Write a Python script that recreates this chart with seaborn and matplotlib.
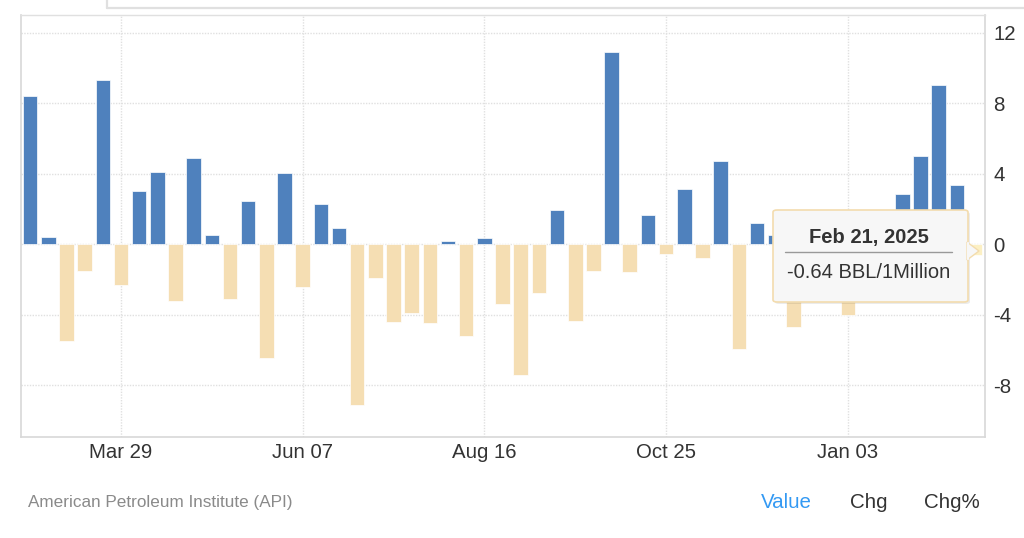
import matplotlib
matplotlib.use("Agg")
import matplotlib.pyplot as plt
from matplotlib.patches import FancyBboxPatch, Polygon
from matplotlib.lines import Line2D
import seaborn as sns
import pandas as pd
import numpy as np

# ---------------- data ----------------
dates = pd.date_range("2024-02-23", "2025-02-21", freq="7D")
values = [8.43, 0.42, -5.52, -1.52, 9.34, -2.29, 3.03, 4.09, -3.24, 4.91,
          0.51, -3.10, 2.48, -6.49, 4.05, -2.43, 2.26, 0.91, -9.16, -1.92,
          -4.44, -3.90, -4.50, 0.18, -5.21, 0.35, -3.40, -7.40, -2.79, 1.96,
          -4.34, -1.50, 10.90, -1.58, 1.64, -0.57, 3.13, -0.78, 4.75, -5.93,
          1.23, 0.50, -4.70, -3.20, -1.44, -4.02, -2.60, 0.96, 2.86, 5.03,
          9.04, 3.34, -0.64]
tick_labels = ["Mar 29", "Jun 07", "Aug 16", "Oct 25", "Jan 03"]
y_ticks = [-8, -4, 0, 4, 8, 12]
hover_index = len(values) - 1
tooltip_title = "Feb 21, 2025"
tooltip_value = "-0.64 BBL/1Million"
source_text = "American Petroleum Institute (API)"
buttons = ["Value", "Chg", "Chg%"]

kinds = ["hover" if i == hover_index else ("up" if v >= 0 else "down")
         for i, v in enumerate(values)]
df = pd.DataFrame({"date": dates.strftime("%Y-%m-%d"), "value": values, "kind": kinds})
palette = {"up": "#4f81bd", "down": "#f5deb3", "hover": "#fcf0c4"}

# ---------------- figure ----------------
sns.set_theme(style="white")
plt.rcParams["font.family"] = ["Liberation Sans", "DejaVu Sans"]

W, H = 1024, 538
fig = plt.figure(figsize=(W / 100, H / 100), dpi=100)
fig.patch.set_facecolor("white")

def fx(x):
    return x / W

def fy(y):
    return 1 - y / H

ax = fig.add_axes([fx(21), fy(437), fx(985) - fx(21), fy(15) - fy(437)])
ax.set_facecolor("white")

sns.barplot(data=df, x="date", y="value", hue="kind", palette=palette,
            dodge=False, width=0.8, legend=False, ax=ax, saturation=1,
            edgecolor="white", linewidth=0.5, zorder=3)

ax.set_xlim(-0.5, len(values) - 0.45)
ax.set_ylim(-10.95, 13.02)

# ticks
date_labels = list(dates.strftime("%b %d"))
tick_pos = [date_labels.index(t) for t in tick_labels]
ax.set_xticks(tick_pos)
ax.set_xticklabels(tick_labels, fontsize=14.7, color="#333333")
ax.set_yticks(y_ticks)
ax.set_yticklabels([str(t) for t in y_ticks], fontsize=14.7, color="#333333")
ax.yaxis.tick_right()
ax.tick_params(axis="y", length=0, pad=6)
ax.tick_params(axis="x", length=0, pad=4)
for lab in ax.get_yticklabels():
    lab.set_horizontalalignment("left")
ax.set_xlabel("")
ax.set_ylabel("")

# grid
ax.grid(True, axis="both", color="#e0e0e0", linestyle=(0, (1, 1)), linewidth=1.0, zorder=0)
ax.set_axisbelow(True)

for side in ["left", "bottom", "right"]:
    ax.spines[side].set_visible(True)
    ax.spines[side].set_color("#d8d8d8")
    ax.spines[side].set_linewidth(1.2)
ax.spines["top"].set_visible(True)
ax.spines["top"].set_color("#e0e0e0")
ax.spines["top"].set_linestyle((0, (1, 1)))
ax.spines["top"].set_linewidth(1.0)

# top UI box edge
fig.add_artist(Line2D([fx(107), fx(107)], [fy(8), 1.01], transform=fig.transFigure,
                      color="#e0e0e0", linewidth=1.6))
fig.add_artist(Line2D([fx(107), 1.01], [fy(8), fy(8)], transform=fig.transFigure,
                      color="#e0e0e0", linewidth=1.6))

# ---------------- tooltip ----------------
bx0, bx1, by0, by1 = 773, 968, 210, 302
shadow = FancyBboxPatch((fx(bx0 + 2), fy(by1 + 2)), fx(bx1) - fx(bx0), fy(by0) - fy(by1),
                        boxstyle="round,pad=0,rounding_size=0.004",
                        transform=fig.transFigure, facecolor="#000000", alpha=0.08,
                        edgecolor="none", zorder=5)
fig.add_artist(shadow)
box = FancyBboxPatch((fx(bx0), fy(by1)), fx(bx1) - fx(bx0), fy(by0) - fy(by1),
                     boxstyle="round,pad=0,rounding_size=0.004",
                     transform=fig.transFigure, facecolor="#f7f7f7", alpha=1.0,
                     edgecolor="#f3dcae", linewidth=1.2, zorder=6)
fig.add_artist(box)
arrow = Polygon([[fx(967), fy(242)], [fx(979), fy(251)], [fx(967), fy(260)]],
                closed=True, transform=fig.transFigure, facecolor="#f7f7f7",
                edgecolor="#f3dcae", linewidth=1.0, zorder=6.5)
fig.add_artist(arrow)
fig.add_artist(Line2D([fx(968), fx(968)], [fy(243), fy(259)], transform=fig.transFigure,
                      color="#f7f7f7", linewidth=1.6, zorder=6.6))
fig.text(fx(869), fy(237), tooltip_title, ha="center", va="center", fontsize=14.5,
         fontweight="bold", color="#333333", zorder=7)
fig.add_artist(Line2D([fx(785), fx(952)], [fy(252), fy(252)], transform=fig.transFigure,
                      color="#999999", linewidth=1.0, zorder=7))
fig.text(fx(869), fy(273), tooltip_value, ha="center", va="center", fontsize=14.5,
         color="#333333", zorder=7)

# ---------------- footer ----------------
fig.text(fx(28), fy(503), source_text, ha="left", va="center", fontsize=12.3, color="#8a8a8a")
fig.text(fx(786), fy(503), buttons[0], ha="center", va="center", fontsize=14.8, color="#3399f3")
fig.text(fx(869), fy(503), buttons[1], ha="center", va="center", fontsize=14.8, color="#333333")
fig.text(fx(952), fy(503), buttons[2], ha="center", va="center", fontsize=14.8, color="#333333")

fig.savefig("out.png", dpi=100, facecolor="white")
